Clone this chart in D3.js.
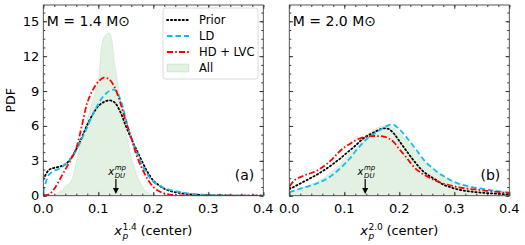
<!DOCTYPE html>
<html lang="en">
<head>
  <meta charset="utf-8">
  <title>PDF of x_p</title>
  <style>
  html, body {padding: 0; margin: 0; overflow: hidden; background: #fff}
  text {font-family: "DejaVu Sans", sans-serif; fill: #000}
</style>
</head>
<body>
  <svg width="525" height="245"></svg>
  <script src="https://d3js.org/d3.v7.min.js"></script>
  <script>

  // shared x grid of the density curves
  var xs = [0.00, 0.01, 0.02, 0.03, 0.04, 0.05, 0.06, 0.07, 0.08, 0.09,
            0.10, 0.11, 0.12, 0.13, 0.14, 0.15, 0.16, 0.17, 0.18, 0.19,
            0.20, 0.21, 0.22, 0.23, 0.24, 0.25, 0.26, 0.27, 0.28, 0.29,
            0.30, 0.31, 0.32, 0.33, 0.34, 0.35, 0.36, 0.37, 0.38, 0.39, 0.40];

  // panel (a), M = 1.4
  var prior14 = [1.4, 2.2, 2.4, 2.5, 2.7, 3.2, 4.0, 5.0, 6.1, 7.0,
                 7.7, 8.05, 8.2, 8.0, 7.2, 6.0, 4.9, 3.9, 2.9, 2.0,
                 1.3, 0.9, 0.6, 0.42, 0.3, 0.22, 0.15, 0.11, 0.08, 0.06,
                 0.04, 0.03, 0.02, 0.02, 0.01, 0.01, 0.01, 0, 0, 0, 0];
  var ld14 = [0.3, 1.8, 2.15, 2.35, 2.7, 3.2, 3.9, 4.9, 5.9, 7.0,
              7.9, 8.6, 9.0, 9.1, 8.3, 6.6, 4.9, 3.7, 2.6, 1.8,
              1.2, 0.9, 0.65, 0.5, 0.4, 0.3, 0.22, 0.16, 0.12, 0.09,
              0.06, 0.04, 0.03, 0.02, 0.02, 0.01, 0.01, 0.01, 0, 0, 0];
  var hd14 = [0.02, 0.1, 0.6, 1.4, 2.25, 3.1, 4.1, 6.0, 8.0, 9.1,
              9.8, 10.15, 10.0, 9.3, 8.0, 6.4, 5.0, 3.4, 2.3, 1.4,
              0.75, 0.4, 0.2, 0.1, 0.05, 0.03, 0.02, 0.01, 0.01, 0,
              0, 0, 0, 0, 0, 0, 0, 0, 0, 0, 0];
  var all14 = [0, 0.02, 0.1, 0.35, 0.8, 1.2, 2.9, 4.9, 6.6, 8.2,
               10.0, 13.6, 14.0, 11.3, 8.3, 5.6, 3.3, 1.8, 0.8, 0.3,
               0.05, 0, 0, 0, 0, 0, 0, 0, 0, 0,
               0, 0, 0, 0, 0, 0, 0, 0, 0, 0, 0];

  // panel (b), M = 2.0
  var prior20 = [0.55, 0.8, 1.05, 1.3, 1.55, 1.8, 2.1, 2.4, 2.75, 3.1,
                 3.5, 3.9, 4.3, 4.75, 5.1, 5.35, 5.6, 5.78, 5.75, 5.35,
                 4.7, 4.05, 3.4, 2.8, 2.25, 1.85, 1.55, 1.25, 0.95, 0.78,
                 0.62, 0.5, 0.42, 0.36, 0.3, 0.26, 0.22, 0.19, 0.16, 0.13, 0.1];
  var ld20 = [0.3, 0.45, 0.6, 0.75, 0.88, 1.05, 1.25, 1.5, 1.85, 2.25,
              2.7, 3.2, 3.8, 4.35, 4.85, 5.2, 5.5, 5.8, 6.05, 6.1,
              5.7, 5.2, 4.6, 4.0, 3.35, 2.8, 2.4, 2.0, 1.7, 1.42,
              1.18, 1.0, 0.88, 0.77, 0.68, 0.6, 0.52, 0.45, 0.38, 0.32, 0.27];
  var hd20 = [0.8, 1.35, 1.6, 1.8, 1.95, 2.15, 2.45, 2.8, 3.25, 3.75,
              4.15, 4.45, 4.75, 4.95, 5.08, 5.13, 5.13, 5.1, 4.95, 4.6,
              4.0, 3.45, 2.85, 2.3, 1.95, 1.67, 1.42, 1.22, 1.05, 0.92,
              0.8, 0.7, 0.63, 0.57, 0.52, 0.47, 0.42, 0.37, 0.32, 0.27, 0.22];
  var all20 = [0.3, 0.45, 0.62, 0.8, 0.98, 1.2, 1.45, 1.8, 2.2, 2.65,
               3.15, 3.7, 4.25, 4.75, 5.2, 5.55, 5.85, 6.0, 6.0, 5.8,
               5.4, 4.9, 4.35, 3.8, 3.2, 2.7, 2.3, 1.95, 1.65, 1.38,
               1.15, 0.97, 0.83, 0.72, 0.62, 0.54, 0.47, 0.4, 0.34, 0.29, 0.25];

  var xTicks = [0, 0.1, 0.2, 0.3, 0.4];
  var yTicks = [0, 3, 6, 9, 12, 15];
  var legendLabels = ["Prior", "LD", "HD + LVC", "All"];

  var panels = [
    {left: 43.3, tag: "(a)", mass: "1.4", xdu: 0.132, prior: prior14, ld: ld14, hd: hd14, all: all14, yLabels: true},
    {left: 289.3, tag: "(b)", mass: "2.0", xdu: 0.138, prior: prior20, ld: ld20, hd: hd20, all: all20, yLabels: false}
  ];

  var svg = d3.select("svg");
  var pw = 220, plotTop = 5, plotBottom = 195.7;

  var y = d3.scaleLinear().domain([0, 16.4]).range([plotBottom, plotTop]);

  var styles = {
    prior: {color: "#000", dash: "1.3,2.6", cap: "round"},
    ld: {color: "#10bdf0", dash: "5.5,3", cap: "butt"},
    hd: {color: "#ff0000", dash: "6,2.2,1.6,2.2", cap: "butt"}
  };
  var fillColor = "rgba(0,128,0,0.11)";

  // x with sub and sup scripts, centred on cx
  function scripted(g, cx, base, sub, sup, size, italicScripts) {
    var t = g.append("g");
    var b = t.append("text").attr("font-size", size).attr("font-style", "italic").text("x");
    var w = b.node().getComputedTextLength();
    var s1 = t.append("text").attr("x", w + 0.5).attr("y", size * 0.3).attr("font-size", size * 0.7)
      .attr("font-style", "italic").text(sub);
    var s2 = t.append("text").attr("x", w + 0.5).attr("y", -size * 0.42).attr("font-size", size * 0.7)
      .attr("font-style", italicScripts ? "italic" : "normal").text(sup);
    var ws = Math.max(s1.node().getComputedTextLength(), s2.node().getComputedTextLength());
    var wr = 0;
    if (base) {
      var rest = t.append("text").attr("x", w + ws + 4).attr("font-size", size).text(base);
      wr = rest.node().getComputedTextLength() + 4;
    }
    var total = w + ws + wr;
    t.attr("transform", "translate(" + (cx - total / 2) + ",0)");
    return t;
  }

  function styleTicks(s) {
    s.select(".domain").remove();
    s.selectAll("line").attr("stroke", "#333");
  }

  panels.forEach(function(p) {
    var x = d3.scaleLinear().domain([0, 0.4]).range([p.left, p.left + pw]);
    var g = svg.append("g");

    var area = d3.area().x(function(d, i) { return x(xs[i]); }).y0(y(0)).y1(function(d) { return y(d); })
      .curve(d3.curveCatmullRom);
    var line = d3.line().x(function(d, i) { return x(xs[i]); }).y(function(d) { return y(d); })
      .curve(d3.curveCatmullRom);

    var clipId = "clip" + p.tag.replace(/\W/g, "");
    g.append("clipPath").attr("id", clipId).append("rect")
      .attr("x", p.left).attr("y", plotTop).attr("width", pw).attr("height", plotBottom - plotTop);

    var plot = g.append("g").attr("clip-path", "url(#" + clipId + ")");
    plot.append("path").attr("d", area(p.all)).attr("fill", fillColor)
      .attr("stroke", "rgba(0,128,0,0.12)").attr("stroke-width", 0.8);

    ["prior", "ld", "hd"].forEach(function(k) {
      plot.append("path").attr("d", line(p[k])).attr("fill", "none")
        .attr("stroke", styles[k].color).attr("stroke-width", 1.8)
        .attr("stroke-dasharray", styles[k].dash).attr("stroke-linecap", styles[k].cap);
    });

    // ticks pointing inwards on all four sides
    var xMinor = d3.range(0, 0.4001, 0.02);
    var yMinor = d3.range(0, 16.4, 0.75);
    [[d3.axisBottom(x), plotBottom], [d3.axisTop(x), plotTop]].forEach(function(a) {
      var tr = "translate(0," + a[1] + ")";
      g.append("g").attr("transform", tr).call(a[0].tickValues(xMinor).tickSize(-2).tickFormat("")).call(styleTicks);
      g.append("g").attr("transform", tr).call(a[0].tickValues(xTicks).tickSize(-3.8).tickFormat("")).call(styleTicks);
    });
    [[d3.axisLeft(y), p.left], [d3.axisRight(y), p.left + pw]].forEach(function(a) {
      var tr = "translate(" + a[1] + ",0)";
      g.append("g").attr("transform", tr).call(a[0].tickValues(yMinor).tickSize(-2).tickFormat("")).call(styleTicks);
      g.append("g").attr("transform", tr).call(a[0].tickValues(yTicks).tickSize(-3.8).tickFormat("")).call(styleTicks);
    });

    g.append("rect").attr("x", p.left).attr("y", plotTop).attr("width", pw).attr("height", plotBottom - plotTop)
      .attr("fill", "none").attr("stroke", "#444").attr("stroke-width", 0.9);

    // tick labels
    g.selectAll(".xl").data(xTicks).enter().append("text")
      .attr("x", function(d) { return x(d); }).attr("y", 213)
      .attr("text-anchor", "middle").attr("font-size", 13)
      .text(function(d) { return d3.format(".1f")(d); });
    if (p.yLabels) {
      g.selectAll(".yl").data(yTicks).enter().append("text")
        .attr("x", p.left - 4).attr("y", function(d) { return y(d) + 4.5; })
        .attr("text-anchor", "end").attr("font-size", 13)
        .text(function(d) { return d; });
      g.append("text").attr("transform", "translate(15," + (plotTop + plotBottom) / 2 + ") rotate(-90)")
        .attr("text-anchor", "middle").attr("font-size", 12.5).text("PDF");
    }

    // x label
    var xl = g.append("g").attr("transform", "translate(0,235)");
    scripted(xl, p.left + pw / 2, "(center)", "p", p.mass, 13, false);

    // mass title
    g.append("text").attr("x", p.left + 3.5).attr("y", 26).attr("font-size", 14)
      .text("M = " + p.mass + " M\u2299");

    // panel tag
    g.append("text").attr("x", p.left + pw - 9).attr("y", 180).attr("text-anchor", "end")
      .attr("font-size", 14).text(p.tag);

    // x_DU^mp marker with arrow
    var ann = g.append("g").attr("transform", "translate(0,174.5)");
    scripted(ann, x(p.xdu) + 1, null, "DU", "mp", 10, true);
    g.append("line").attr("x1", x(p.xdu)).attr("x2", x(p.xdu)).attr("y1", 179).attr("y2", 189)
      .attr("stroke", "#000").attr("stroke-width", 1.2);
    g.append("path").attr("d", "M" + (x(p.xdu) - 3) + ",188 L" + (x(p.xdu) + 3) + ",188 L" + x(p.xdu) + ",194 Z")
      .attr("fill", "#000");
  });

  // legend in panel (a)
  var lg = svg.append("g").attr("transform", "translate(163,8)");
  lg.append("rect").attr("width", 95).attr("height", 71).attr("rx", 2.5)
    .attr("fill", "rgba(255,255,255,0.85)").attr("stroke", "#d0d0d0").attr("stroke-width", 0.8);
  var keys = ["prior", "ld", "hd"];
  legendLabels.forEach(function(lab, i) {
    var ly = 12 + i * 16;
    if (i < 3) {
      lg.append("line").attr("x1", 4).attr("x2", 26).attr("y1", ly).attr("y2", ly)
        .attr("stroke", styles[keys[i]].color).attr("stroke-width", 1.8)
        .attr("stroke-dasharray", styles[keys[i]].dash).attr("stroke-linecap", styles[keys[i]].cap);
    } else {
      lg.append("rect").attr("x", 4).attr("y", ly - 4).attr("width", 22).attr("height", 8)
        .attr("fill", fillColor).attr("stroke", "rgba(0,128,0,0.12)");
    }
    lg.append("text").attr("x", 36).attr("y", ly + 4).attr("font-size", 11.5).text(lab);
  });

  </script>
</body>
</html>
